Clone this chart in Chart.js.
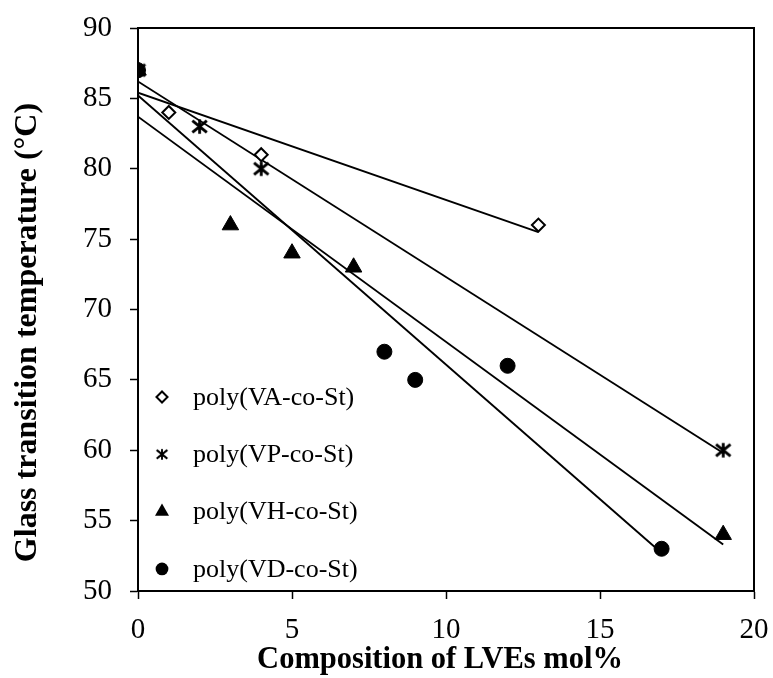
<!DOCTYPE html>
<html><head><meta charset="utf-8">
<script src="https://cdn.jsdelivr.net/npm/chart.js@4.4.1/dist/chart.umd.min.js"></script>
<style>html,body{margin:0;padding:0;background:#fff}</style>
</head><body>
<canvas id="c" width="773" height="678"></canvas>
<script>
// ---- data ----
const seriesNames = ['poly(VA-co-St)', 'poly(VP-co-St)', 'poly(VH-co-St)', 'poly(VD-co-St)'];
const vaX = [0, 1, 4, 13];
const vaY = [87, 84, 81, 76];
const vpX = [0, 2, 4, 19];
const vpY = [87, 83, 80, 60];
const vhX = [0, 3, 5, 7, 19];
const vhY = [87, 76, 74, 73, 54];
const vdX = [0, 8, 9, 12, 17];
const vdY = [87, 67, 65, 66, 53];
// trend line end points
const vaTrendX = [0, 13];
const vaTrendY = [85.4, 75.5];
const vpTrendX = [0, 19];
const vpTrendY = [86.2, 59.8];
const vhTrendX = [0, 19];
const vhTrendY = [83.7, 53.3];
const vdTrendX = [0, 17];
const vdTrendY = [85.2, 52.7];
const xTickValues = [0, 5, 10, 15, 20];
const yTickValues = [50, 55, 60, 65, 70, 75, 80, 85, 90];
const xTitle = 'Composition of LVEs mol%';
const yTitle = 'Glass transition temperature (°C)';

const FONT = '"Liberation Serif", "Times New Roman", serif';
const pts = (xs, ys) => xs.map((x, i) => ({x: x, y: ys[i]}));

// asterisk marker
function makeAsterisk(size, lw) {
  const cv = document.createElement('canvas');
  cv.width = size; cv.height = size;
  const g = cv.getContext('2d');
  g.strokeStyle = '#000'; g.lineWidth = lw;
  const c = size / 2, r = size / 2 - 1;
  g.beginPath();
  g.moveTo(c - r * 0.85, c - r * 0.7); g.lineTo(c + r * 0.85, c + r * 0.7);
  g.moveTo(c + r * 0.85, c - r * 0.7); g.lineTo(c - r * 0.85, c + r * 0.7);
  g.moveTo(c, c - r * 0.85); g.lineTo(c, c + r * 0.85);
  g.stroke();
  return cv;
}
const asterisk = makeAsterisk(19, 2.8);

const markerStyles = [
  {pointStyle: 'rectRot', radius: 6.5, bg: '#fff', border: '#000', bw: 2},
  {pointStyle: asterisk, radius: 9, bg: '#000', border: '#000', bw: 0},
  {pointStyle: 'triangle', radius: 9.5, bg: '#000', border: '#000', bw: 1},
  {pointStyle: 'circle', radius: 7.5, bg: '#000', border: '#000', bw: 1}
];

function scatterDs(i, xs, ys) {
  const m = markerStyles[i];
  return {
    type: 'scatter', label: seriesNames[i], data: pts(xs, ys), order: 4 - i,
    pointStyle: m.pointStyle, pointRadius: m.radius, pointHoverRadius: m.radius,
    backgroundColor: m.bg, borderColor: m.border, borderWidth: m.bw, showLine: false
  };
}
function trendDs(xs, ys) {
  return {
    type: 'line', label: '', data: pts(xs, ys), order: 10,
    borderColor: '#000', borderWidth: 1.9, pointRadius: 0, fill: false, tension: 0
  };
}

const legendPlugin = {
  id: 'customLegend',
  afterDatasetsDraw(chart) {
    const ctx = chart.ctx;
    const ca = chart.chartArea;
    const x0 = ca.left + 24, tx = ca.left + 55;
    const y0 = ca.top + 369, dy = 57.3;
    ctx.save();
    ctx.font = '26px ' + FONT;
    ctx.fillStyle = '#000';
    ctx.textBaseline = 'middle';
    ctx.textAlign = 'left';
    markerStyles.forEach((m, i) => {
      const y = y0 + i * dy;
      const r = m.radius * 0.85;
      ctx.save();
      ctx.fillStyle = m.bg; ctx.strokeStyle = m.border; ctx.lineWidth = m.bw;
      if (m.pointStyle === 'rectRot') {
        ctx.beginPath();
        ctx.moveTo(x0 - r, y); ctx.lineTo(x0, y - r); ctx.lineTo(x0 + r, y); ctx.lineTo(x0, y + r); ctx.closePath();
        ctx.fill(); ctx.stroke();
      } else if (m.pointStyle === 'triangle') {
        ctx.beginPath();
        ctx.moveTo(x0, y - r); ctx.lineTo(x0 + r * 0.866, y + r * 0.5); ctx.lineTo(x0 - r * 0.866, y + r * 0.5); ctx.closePath();
        ctx.fill();
      } else if (m.pointStyle === 'circle') {
        ctx.beginPath(); ctx.arc(x0, y, r, 0, Math.PI * 2); ctx.fill();
      } else {
        ctx.drawImage(m.pointStyle, x0 - 7, y - 7, 14, 14);
      }
      ctx.restore();
      ctx.fillText(seriesNames[i], tx, y + 1);
    });
    ctx.restore();
  }
};

const boxPlugin = {
  id: 'box',
  afterDraw(chart) {
    const ca = chart.chartArea, ctx = chart.ctx;
    ctx.save();
    ctx.strokeStyle = '#000'; ctx.lineWidth = 2;
    ctx.strokeRect(ca.left, ca.top, ca.right - ca.left, ca.bottom - ca.top);
    ctx.fillStyle = '#000';
    ctx.textAlign = 'center';
    ctx.textBaseline = 'middle';
    // x axis title
    ctx.font = 'bold 30.5px ' + FONT;
    ctx.fillText(xTitle, (ca.left + ca.right) / 2 - 6, ca.bottom + 69);
    // y axis title
    ctx.font = 'bold 32px ' + FONT;
    ctx.translate(28, (ca.top + ca.bottom) / 2 + 23);
    ctx.rotate(-Math.PI / 2);
    ctx.fillText(yTitle, 0, 0);
    ctx.restore();
  }
};

new Chart(document.getElementById('c'), {
  data: {
    datasets: [
      scatterDs(0, vaX, vaY), scatterDs(1, vpX, vpY), scatterDs(2, vhX, vhY), scatterDs(3, vdX, vdY),
      trendDs(vaTrendX, vaTrendY), trendDs(vpTrendX, vpTrendY), trendDs(vhTrendX, vhTrendY), trendDs(vdTrendX, vdTrendY)
    ]
  },
  options: {
    responsive: false, animation: false,
    layout: {padding: {top: 28, right: 19, left: 0, bottom: 0}},
    plugins: {legend: {display: false}, tooltip: {enabled: false}},
    scales: {
      x: {
        type: 'linear', min: 0, max: 20,
        afterBuildTicks: s => { s.ticks = xTickValues.map(v => ({value: v})); },
        afterFit: s => { s.height = 87; s.paddingLeft = 0; s.paddingRight = 0; },
        grid: {drawOnChartArea: false, drawTicks: true, tickLength: 8, tickColor: '#000', tickWidth: 1.5},
        border: {display: true, color: '#000', width: 2},
        ticks: {color: '#000', font: {family: FONT, size: 29}, padding: 14, maxRotation: 0},
        title: {display: false}
      },
      y: {
        type: 'linear', min: 50, max: 90,
        afterBuildTicks: s => { s.ticks = yTickValues.map(v => ({value: v})); },
        afterFit: s => { s.width = 138; s.paddingTop = 0; s.paddingBottom = 0; },
        grid: {drawOnChartArea: false, drawTicks: true, tickLength: 8, tickColor: '#000', tickWidth: 1.5},
        border: {display: true, color: '#000', width: 2},
        ticks: {color: '#000', font: {family: FONT, size: 29}, padding: 18},
        title: {display: false}
      }
    }
  },
  plugins: [legendPlugin, boxPlugin]
});
</script>
</body></html>
